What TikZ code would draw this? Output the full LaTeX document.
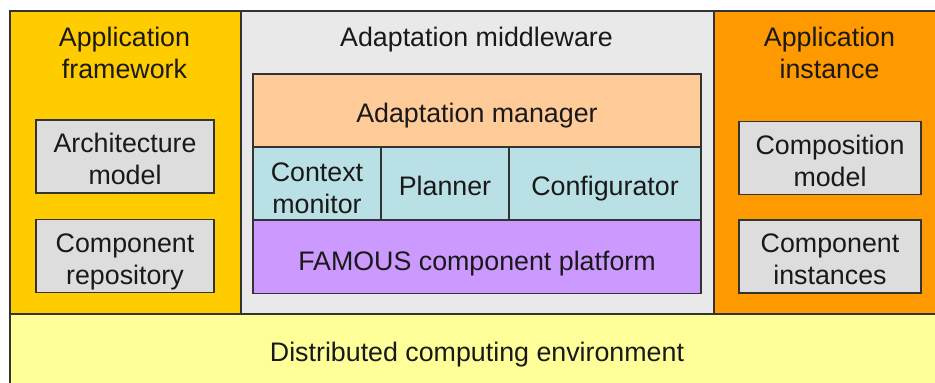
\documentclass[tikz,border=0pt]{standalone}
\usepackage{fontspec}
\setmainfont{Liberation Sans}
\usepackage{tikz}
\usetikzlibrary{positioning}
\definecolor{framegold}{HTML}{FFCC00}
\definecolor{middlegray}{HTML}{E9E9E9}
\definecolor{instorange}{HTML}{FF9900}
\definecolor{envyellow}{HTML}{FFFF99}
\definecolor{boxgray}{HTML}{DDDDDD}
\definecolor{managerpeach}{HTML}{FFCC99}
\definecolor{stackteal}{HTML}{B9E0E4}
\definecolor{platformlilac}{HTML}{CC99FF}
\definecolor{edge}{HTML}{333333}

\begin{document}
\begin{tikzpicture}[
  x=1pt, y=-1pt,
  every node/.style={font=\fontsize{26.8}{32}\selectfont, text=black!90},
  column/.style={rectangle, draw=edge, line width=1.5pt, inner sep=0pt, anchor=north west},
  box/.style={rectangle, draw=edge, line width=1.2pt, fill=boxgray, align=center, minimum width=178pt, minimum height=73pt, inner sep=0pt, text height=56pt, text depth=0pt},
  layer/.style={rectangle, draw=edge, line width=1.2pt, align=center, minimum height=73pt, inner sep=0pt, text height=24pt, text depth=0pt},
  title/.style={align=center, inner sep=0pt}
]
  \clip (0,0) rectangle (935,383);

  \node[column, fill=framegold, minimum width=231pt, minimum height=303pt] (framework) at (9,10) {};
  \node[column, fill=middlegray, minimum width=473pt, minimum height=303pt] (middleware) at (240,10) {};
  \node[column, fill=instorange, minimum width=233pt, minimum height=303pt] (instance) at (713,10) {};
  \node[column, fill=envyellow, minimum width=937pt, minimum height=80pt] (env) at (9,313) {};

  \node[title] (frameworktitle) at (124.5,53) {Application\\framework};
  \node[title] (middlewaretitle) at (476.5,40) {Adaptation middleware};
  \node[title] (instancetitle) at (829.5,53) {Application\\instance};
  \node[title] (envtitle) at (477,355) {Distributed computing environment};

  \node[box] (archmodel) at (125,156.5) {Architecture\\model};
  \node[box] (comprepo) at (125,256) {Component\\repository};

  \node[layer, fill=managerpeach, minimum width=448pt] (manager) at (477,110.5) {Adaptation manager};
  \node[layer, fill=stackteal, minimum width=128pt, text height=60pt] (monitor) at (317,183.5) {Context\\monitor};
  \node[layer, fill=stackteal, minimum width=128pt] (planner) at (445,183.5) {Planner};
  \node[layer, fill=stackteal, minimum width=192pt] (configurator) at (605,183.5) {Configurator};
  \node[layer, fill=platformlilac, minimum width=448pt, text height=26pt] (platform) at (477,257) {FAMOUS component platform};

  \node[box, minimum width=182pt] (compmodel) at (830,158) {Composition\\model};
  \node[box, minimum width=182pt] (compinst) at (830,256.5) {Component\\instances};
\end{tikzpicture}
\end{document}
